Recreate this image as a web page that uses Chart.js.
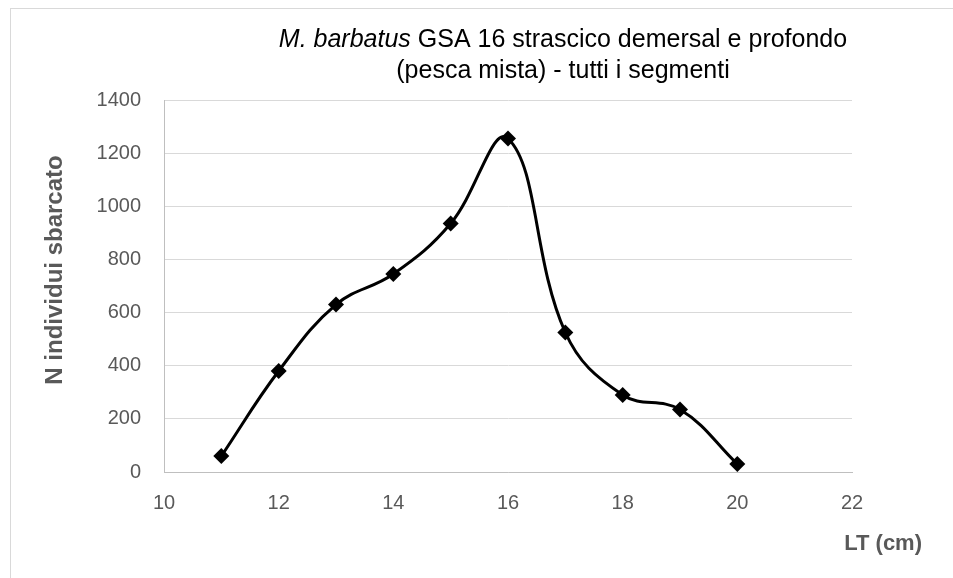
<!DOCTYPE html>
<html>
<head>
<meta charset="utf-8">
<script src="https://cdn.jsdelivr.net/npm/chart.js@4/dist/chart.umd.min.js"></script>
<style>
  html, body { margin: 0; padding: 0; background: #fff; overflow: hidden; }
  #wrap { position: relative; width: 953px; height: 578px; }
  #frame { position: absolute; left: 10px; top: 8px; width: 960px; height: 600px; border: 1px solid #d9d9d9; box-sizing: border-box; }
  canvas { position: absolute; left: 0; top: 0; }
</style>
</head>
<body>
<div id="wrap">
  <div id="frame"></div>
  <canvas id="lt-chart" width="953" height="578"></canvas>
</div>
<script>
// lunghezze (cm) e numero individui sbarcati
var lengths = [11, 12, 13, 14, 15, 16, 17, 18, 19, 20];
var counts = [60, 380, 630, 745, 935, 1255, 525, 290, 235, 30];
var xTicks = [10, 12, 14, 16, 18, 20, 22];
var yTicks = [0, 200, 400, 600, 800, 1000, 1200, 1400];

var FONT = "'Liberation Sans', Arial, sans-serif";

var points = lengths.map(function(l, i) {
    return { x: l, y: counts[i] };
});

// titles drawn by hand so the italic part and positions match
var titlesPlugin = {
    id: 'titles',
    afterDraw: function(chart) {
        var ctx = chart.ctx;
        ctx.save();
        ctx.fillStyle = '#000';
        ctx.textBaseline = 'middle';
        var it = 'italic 25px ' + FONT;
        var nm = '25px ' + FONT;
        var p1 = 'M. barbatus';
        var p2 = ' GSA 16 strascico demersal e profondo';
        ctx.font = it;
        var w1 = ctx.measureText(p1).width;
        ctx.font = nm;
        var w2 = ctx.measureText(p2).width;
        var cx = 563;
        var x0 = cx - (w1 + w2) / 2;
        ctx.textAlign = 'left';
        ctx.font = it;
        ctx.fillText(p1, x0, 40);
        ctx.font = nm;
        ctx.fillText(p2, x0 + w1, 40);
        ctx.textAlign = 'center';
        ctx.fillText('(pesca mista) - tutti i segmenti', cx, 71);

        ctx.fillStyle = '#595959';
        ctx.font = 'bold 22px ' + FONT;
        ctx.textAlign = 'right';
        ctx.fillText('LT (cm)', 922, 544);
        ctx.font = 'bold 24px ' + FONT;
        ctx.translate(55, 270);
        ctx.rotate(-Math.PI / 2);
        ctx.textAlign = 'center';
        ctx.fillText('N individui sbarcato', 0, 0);
        ctx.restore();
    }
};

new Chart(document.getElementById('lt-chart'), {
    type: 'line',
    data: {
        datasets: [{
            label: 'N individui',
            data: points,
            borderColor: '#000',
            backgroundColor: '#000',
            borderWidth: 3,
            tension: 0.4,
            pointStyle: 'rectRot',
            pointRadius: 8,
            pointBorderWidth: 0,
            fill: false
        }]
    },
    options: {
        responsive: false,
        animation: false,
        layout: { padding: { top: 100, right: 101, left: 0, bottom: 0 } },
        plugins: {
            legend: { display: false },
            title: { display: false },
            tooltip: { enabled: false }
        },
        scales: {
            x: {
                type: 'linear',
                min: 10,
                max: 22,
                afterBuildTicks: function(axis) {
                    axis.ticks = xTicks.map(function(v) { return { value: v }; });
                },
                afterFit: function(axis) { axis.height = 106; },
                grid: { display: false, drawTicks: false },
                border: { display: true, color: '#bfbfbf', width: 1 },
                ticks: {
                    color: '#595959',
                    padding: 19,
                    font: { family: FONT, size: 20 },
                    callback: function(v) { return String(v); }
                }
            },
            y: {
                min: 0,
                max: 1400,
                afterBuildTicks: function(axis) {
                    axis.ticks = yTicks.map(function(v) { return { value: v }; });
                },
                afterFit: function(axis) { axis.width = 164; },
                grid: { color: '#d9d9d9', lineWidth: 1, drawTicks: false },
                border: { display: true, color: '#bfbfbf', width: 1 },
                ticks: {
                    color: '#595959',
                    padding: 23,
                    font: { family: FONT, size: 20 },
                    callback: function(v) { return String(v); }
                }
            }
        }
    },
    plugins: [titlesPlugin]
});
</script>
</body>
</html>
